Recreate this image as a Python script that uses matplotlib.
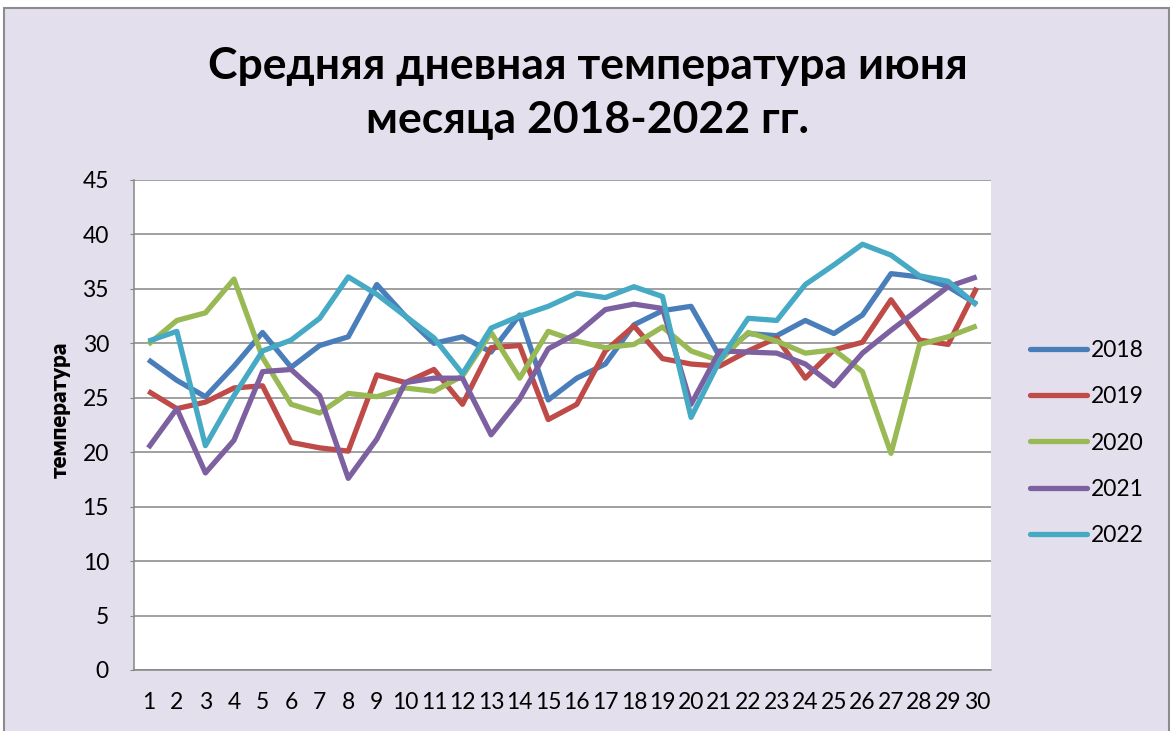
import matplotlib
matplotlib.use("Agg")
import matplotlib.pyplot as plt
from matplotlib.patches import Rectangle

days = list(range(1, 31))
t2018 = [28.5, 26.6, 25.1, 27.9, 31.0, 27.8, 29.8, 30.6, 35.4, 32.5,
         30.0, 30.6, 29.2, 32.6, 24.8, 26.8, 28.1, 31.7, 33.0, 33.4,
         28.8, 30.9, 30.7, 32.1, 30.9, 32.6, 36.4, 36.1, 35.2, 33.6]
t2019 = [25.6, 24.0, 24.6, 25.9, 26.1, 20.9, 20.4, 20.1, 27.1, 26.4,
         27.6, 24.4, 29.6, 29.8, 23.0, 24.4, 29.3, 31.6, 28.6, 28.1,
         27.9, 29.3, 30.5, 26.8, 29.4, 30.1, 34.0, 30.3, 29.9, 35.1]
t2020 = [29.9, 32.1, 32.8, 35.9, 28.7, 24.4, 23.6, 25.4, 25.1, 25.9,
         25.6, 27.0, 31.0, 26.8, 31.1, 30.2, 29.6, 29.9, 31.5, 29.3,
         28.4, 31.0, 30.2, 29.1, 29.4, 27.4, 19.9, 29.9, 30.6, 31.6]
t2021 = [20.4, 24.0, 18.1, 21.1, 27.4, 27.6, 25.2, 17.6, 21.2, 26.4,
         26.8, 26.8, 21.6, 24.9, 29.5, 30.9, 33.1, 33.6, 33.2, 24.4,
         29.3, 29.2, 29.1, 28.1, 26.1, 29.1, 31.2, 33.2, 35.2, 36.1]
t2022 = [30.2, 31.1, 20.6, 25.2, 29.3, 30.3, 32.3, 36.1, 34.5, 32.5,
         30.5, 27.2, 31.4, 32.5, 33.4, 34.6, 34.2, 35.2, 34.3, 23.2,
         28.4, 32.3, 32.1, 35.4, 37.2, 39.1, 38.1, 36.2, 35.7, 33.5]
series_labels = ["2018", "2019", "2020", "2021", "2022"]
series_values = [t2018, t2019, t2020, t2021, t2022]
colors = ["#4A7EBB", "#BE4B48", "#98B954", "#7D60A0", "#46AAC5"]

title = "Средняя дневная температура июня\nмесяца 2018-2022 гг."
ylabel = "температура"
yticks = list(range(0, 50, 5))

plt.rcParams['font.family'] = ['Lato', 'DejaVu Sans']

W, H = 1170, 731
fig = plt.figure(figsize=(W / 100, H / 100), dpi=100, facecolor="white")

bg = Rectangle((4 / W, -0.02), (1169 - 4) / W, (H - 8) / H + 0.02,
               transform=fig.transFigure, facecolor="#E4DFEC",
               edgecolor="#8C8C8C", linewidth=1.5, zorder=-5)
fig.add_artist(bg)

ax = fig.add_axes([134 / W, 1 - 670 / H, (991 - 134) / W, (670 - 180) / H])
ax.set_facecolor("white")

for lab, vals, c in zip(series_labels, series_values, colors):
    ax.plot(days, vals, color=c, lw=3.8, label=lab,
            solid_joinstyle="round", solid_capstyle="butt")

ax.set_xlim(0.5, 30.5)
ax.set_ylim(0, 45)
ax.set_yticks(yticks)
ax.set_xticks(days)
ax.set_xticklabels([str(d) for d in days])
ax.grid(axis="y", color="#868686", lw=1.1)
ax.set_axisbelow(True)
for s in ["top", "right"]:
    ax.spines[s].set_visible(False)
for s in ["left", "bottom"]:
    ax.spines[s].set_color("#868686")
    ax.spines[s].set_linewidth(1.1)
ax.tick_params(axis="y", length=3, color="#868686", labelsize=16.5, pad=15)
ax.tick_params(axis="x", length=0, labelsize=16.5, pad=16)

ax.set_ylabel(ylabel, fontsize=16, fontweight="heavy")
ax.yaxis.set_label_coords((71 - 134) / (991 - 134), (670 - 410) / (670 - 180))

fig.text(588 / W, 1 - 93 / H, title, ha="center", va="center",
         fontsize=32, fontweight="bold", linespacing=1.4)

leg = fig.legend(loc="center left", bbox_to_anchor=(1030 / W, 1 - 443 / H),
                 frameon=False, fontsize=16.5, handlelength=2.5,
                 handletextpad=0.15, labelspacing=1.1, borderpad=0,
                 borderaxespad=0)
for line in leg.get_lines():
    line.set_solid_capstyle("round")
    line.set_linewidth(3.8)

fig.savefig("out.png", dpi=100, facecolor=fig.get_facecolor())
